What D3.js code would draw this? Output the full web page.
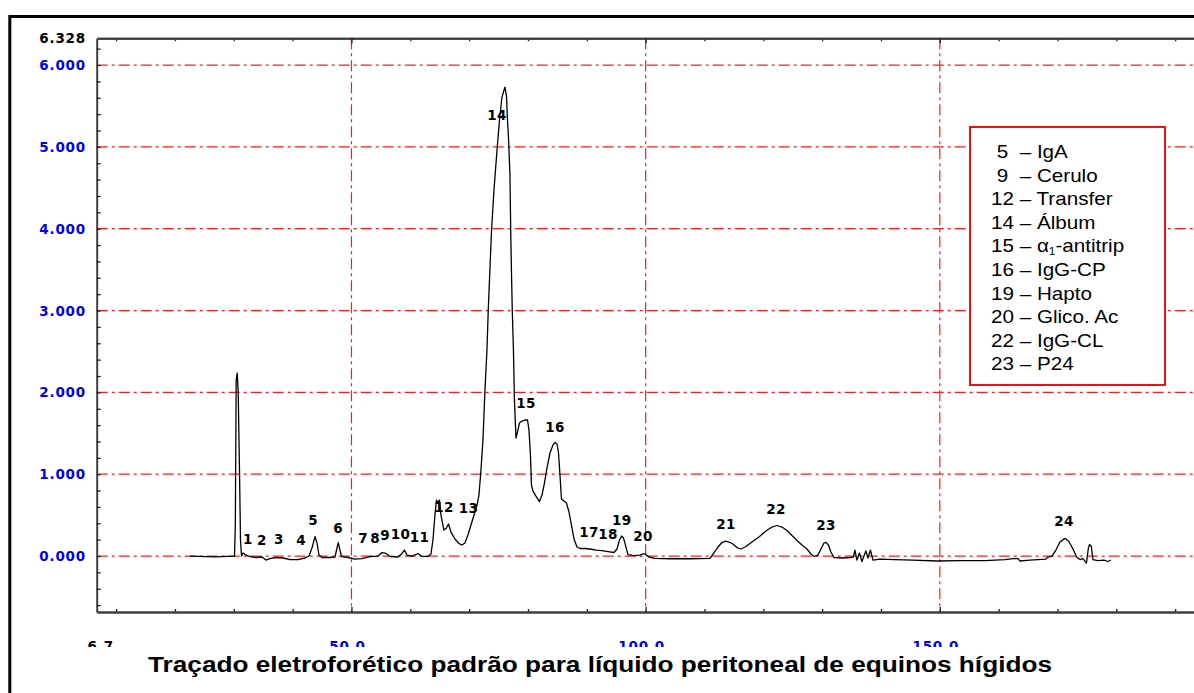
<!DOCTYPE html>
<html>
<head>
<meta charset="utf-8">
<script src="https://cdn.jsdelivr.net/npm/d3@7"></script>
<style>
  html, body { margin: 0; padding: 0; background: #fff; }
  svg { display: block; }
</style>
</head>
<body>
<svg id="chart" width="1194" height="693"></svg>
<script>
// Electrophoretic trace: relative mobility vs. absorbance
const mobility = [22.56,26.80,30.12,30.26,30.41,30.58,30.75,30.97,31.14,31.31,
  31.56,32.07,32.75,33.77,34.79,35.47,36.15,37.17,38.36,39.55,
  40.91,42.10,42.78,43.29,43.80,44.14,44.48,44.99,46.35,47.20,
  47.54,47.76,48.05,48.30,49.41,50.60,51.79,53.15,54.51,55.19,
  55.87,56.55,57.91,58.59,59.01,59.44,60.29,61.31,61.82,63.00,
  63.51,63.85,64.19,64.45,64.70,64.96,65.21,65.72,66.15,66.49,
  66.91,67.59,68.27,68.78,69.29,69.80,70.31,70.83,71.34,71.67,
  72.01,72.35,72.69,73.03,73.25,73.54,73.83,74.22,74.78,75.16,
  75.58,75.84,76.09,76.35,76.52,76.69,76.94,77.06,77.19,77.33,
  77.53,77.70,77.96,78.21,78.55,78.98,79.49,79.92,80.17,80.42,
  80.59,80.85,81.36,81.95,82.38,82.80,83.23,83.74,84.25,84.59,
  84.93,85.18,85.44,85.69,86.12,86.54,86.97,87.39,87.82,88.33,
  88.84,89.69,90.54,91.56,92.58,93.60,94.62,95.13,95.55,95.92,
  96.23,96.57,96.99,98.01,99.03,99.71,100.05,100.56,101.58,104.13,
  107.53,110.93,111.61,112.29,112.97,113.60,114.16,114.84,115.52,116.20,
  117.05,118.07,119.26,120.45,121.47,122.32,123.17,124.02,124.87,125.72,
  126.57,127.42,128.10,128.61,129.28,129.80,130.30,130.64,131.07,131.49,
  132.00,133.36,134.72,135.32,135.57,135.91,136.34,136.76,137.10,137.44,
  137.78,138.21,138.63,139.82,142.37,145.43,149.51,153.42,157.67,161.07,
  162.43,163.28,163.62,165.31,168.03,168.37,169.05,169.73,170.41,171.26,
  171.94,172.62,173.25,173.81,174.32,174.92,175.25,175.45,175.76,176.02,
  176.87,177.89,178.57,179.08];

const absorbance = [0,-0.01,0,0.38,2.151,2.236,2.004,1.051,0.196,0,
  0.037,0.012,-0.006,-0.018,-0.012,-0.049,-0.031,-0.018,-0.024,-0.043,
  -0.043,-0.024,0,0.098,0.238,0.159,0.012,-0.018,-0.018,-0.012,
  0.098,0.165,0.073,-0.006,-0.018,-0.037,-0.031,-0.006,0,0.043,
  0.031,-0.006,-0.012,0.031,0.073,0.012,0,0.031,0,-0.006,
  0.024,0.196,0.501,0.684,0.648,0.684,0.501,0.318,0.342,0.391,
  0.293,0.208,0.153,0.134,0.159,0.257,0.379,0.501,0.623,0.745,
  1.051,1.418,2.029,2.517,3.006,3.519,4.008,4.473,4.998,5.328,
  5.609,5.670,5.731,5.621,5.328,5.108,4.656,4.008,3.495,3.006,
  2.517,1.906,1.442,1.515,1.625,1.650,1.662,1.662,1.540,1.234,
  0.868,0.794,0.733,0.666,0.745,0.892,1.075,1.259,1.356,1.387,
  1.369,1.271,0.990,0.697,0.672,0.648,0.538,0.379,0.208,0.110,
  0.092,0.092,0.086,0.073,0.067,0.055,0.043,0.086,0.196,0.244,
  0.220,0.134,0.018,0.006,0.012,0.031,0.018,-0.012,-0.028,-0.033,
  -0.033,-0.028,0.037,0.110,0.165,0.183,0.171,0.147,0.104,0.086,
  0.116,0.171,0.232,0.306,0.354,0.373,0.354,0.312,0.251,0.189,
  0.134,0.086,0.024,-0.006,0.012,0.086,0.159,0.167,0.134,0.049,
  -0.018,-0.024,-0.018,-0.012,0.073,-0.049,0.037,-0.067,0,0.061,
  -0.024,0.073,-0.049,-0.037,-0.043,-0.049,-0.061,-0.055,-0.055,-0.043,
  -0.031,-0.031,-0.061,-0.049,-0.037,-0.012,0,0.073,0.171,0.216,
  0.177,0.086,-0.012,-0.043,-0.031,-0.086,0.098,0.141,0.116,-0.043,
  -0.055,-0.049,-0.067,-0.049];

// Fraction numbers printed above the trace (id, mobility, absorbance)
const peakIds = ["1","2","3","4","5","6","7","8","9","10","11","12","13","14","15","16","17","18","19","20","21","22","23","24"];
const peakX = [32.41,34.79,37.68,41.42,43.46,47.71,51.96,54.00,55.70,58.33,61.56,65.72,69.89,74.73,79.66,84.59,90.37,93.60,95.92,99.54,113.65,122.15,130.64,171.09];
const peakY = [0.208,0.196,0.208,0.196,0.440,0.342,0.220,0.220,0.257,0.269,0.232,0.599,0.587,5.389,1.869,1.576,0.293,0.269,0.440,0.248,0.391,0.574,0.378,0.428];

// Axis ranges and ticks
const xMin = 6.7, xMax = 193.2;
const yMin = -0.684, yMax = 6.328;
const yLabelTicks = [0, 1, 2, 3, 4, 5, 6];
const xLabelTicks = [50, 100, 150];

// Legend entries
const legendNums = [" 5", " 9", "12", "14", "15", "16", "19", "20", "22", "23"];
const legendNames = ["IgA", "Cerulo", "Transfer", "Álbum", "α1-antitrip", "IgG-CP", "Hapto", "Glico. Ac", "IgG-CL", "P24"];

const title = "Traçado eletroforético padrão para líquido peritoneal de equinos hígidos";

const W = 1194, H = 693;
const svg = d3.select("#chart");
const plot = { left: 96.7, right: 1194, top: 38.2, bottom: 612 };

const x = d3.scaleLinear().domain([xMin, xMax]).range([plot.left, plot.right]);
const y = d3.scaleLinear().domain([yMin, yMax]).range([plot.bottom, plot.top]);

// outer frame
svg.append("rect")
  .attr("x", 9.8).attr("y", 16.5)
  .attr("width", W + 20).attr("height", H + 20)
  .attr("fill", "none").attr("stroke", "#000").attr("stroke-width", 3);

// grid
const gridColor = "#ff1a1a";
const dash = "11,4,3,4";
svg.append("g").selectAll("line").data(yLabelTicks).join("line")
  .attr("x1", plot.left).attr("x2", W)
  .attr("y1", d => y(d)).attr("y2", d => y(d))
  .attr("stroke", gridColor).attr("stroke-width", 1.2)
  .attr("stroke-dasharray", dash);
svg.append("g").selectAll("line").data(xLabelTicks).join("line")
  .attr("x1", d => x(d)).attr("x2", d => x(d))
  .attr("y1", plot.top).attr("y2", plot.bottom)
  .attr("stroke", gridColor).attr("stroke-width", 1.2)
  .attr("stroke-dasharray", dash);

// axes
const axisColor = "#404040";
function styleAxis(g) {
  g.select(".domain").attr("stroke", axisColor).attr("stroke-width", 2);
  g.selectAll(".tick line").attr("stroke", "#202020").attr("stroke-width", 1.3);
  g.selectAll(".tick text").remove();
}
const xMinor = d3.range(10, 200, 10).filter(v => v % 50 !== 0);

svg.append("g").attr("transform", `translate(0,${plot.top})`)
  .call(d3.axisBottom(x).tickValues(xMinor).tickSizeInner(3).tickSizeOuter(0).tickFormat(""))
  .call(styleAxis);
svg.append("g").attr("transform", `translate(0,${plot.top})`)
  .call(d3.axisBottom(x).tickValues(xLabelTicks).tickSizeInner(5).tickSizeOuter(0).tickFormat(""))
  .call(styleAxis);
svg.append("g").attr("transform", `translate(0,${plot.bottom})`)
  .call(d3.axisTop(x).tickValues(xMinor).tickSizeInner(3).tickSizeOuter(0).tickFormat(""))
  .call(styleAxis);
svg.append("g").attr("transform", `translate(0,${plot.bottom})`)
  .call(d3.axisTop(x).tickValues(xLabelTicks).tickSizeInner(5).tickSizeOuter(0).tickFormat(""))
  .call(styleAxis);

const yMinor = d3.range(-6, 63, 2).map(v => v / 10);
svg.append("g").attr("transform", `translate(${plot.left},0)`)
  .call(d3.axisRight(y).tickValues(yMinor).tickSizeInner(4).tickSizeOuter(0).tickFormat(""))
  .call(styleAxis);

// y labels
const tickFont = "'DejaVu Sans', Verdana, sans-serif";
const fmtY = d3.format(".3f");
svg.append("g").selectAll("text").data(yLabelTicks).join("text")
  .attr("x", 86).attr("y", d => y(d))
  .attr("text-anchor", "end").attr("dominant-baseline", "central")
  .attr("font-family", tickFont).attr("font-weight", "bold")
  .attr("font-size", 13.5).attr("letter-spacing", "0.8px")
  .attr("fill", "#0000f0")
  .text(d => fmtY(d));
svg.append("text")
  .attr("x", 86).attr("y", y(yMax))
  .attr("text-anchor", "end").attr("dominant-baseline", "central")
  .attr("font-family", tickFont).attr("font-weight", "bold")
  .attr("font-size", 13.5).attr("letter-spacing", "0.8px")
  .attr("fill", "#000")
  .text(fmtY(yMax));

// x labels (partly hidden under the caption band)
const fmtX = d3.format(".1f");
svg.append("g").selectAll("text").data(xLabelTicks).join("text")
  .attr("x", d => x(d) - 4).attr("y", 651)
  .attr("text-anchor", "middle")
  .attr("font-family", tickFont).attr("font-weight", "bold")
  .attr("font-size", 13.5).attr("letter-spacing", "0.8px")
  .attr("fill", "#0000f0")
  .text(d => fmtX(d));
svg.append("text")
  .attr("x", x(xMin) + 4).attr("y", 651)
  .attr("text-anchor", "middle")
  .attr("font-family", tickFont).attr("font-weight", "bold")
  .attr("font-size", 13.5).attr("letter-spacing", "0.8px")
  .attr("fill", "#000")
  .text(fmtX(xMin));

// trace
const pts = d3.zip(mobility, absorbance);
svg.append("path")
  .datum(pts)
  .attr("fill", "none").attr("stroke", "#000").attr("stroke-width", 1.3)
  .attr("stroke-linejoin", "round")
  .attr("d", d3.line().x(d => x(d[0])).y(d => y(d[1])));

// fraction numbers
svg.append("g").selectAll("text").data(peakIds).join("text")
  .attr("x", (d, i) => x(peakX[i])).attr("y", (d, i) => y(peakY[i]))
  .attr("text-anchor", "middle").attr("dominant-baseline", "central")
  .attr("font-family", tickFont).attr("font-weight", "bold")
  .attr("font-size", 13.5).attr("letter-spacing", "0.3px")
  .attr("fill", "#000")
  .text(d => d);

// legend
svg.append("rect")
  .attr("x", 970).attr("y", 127).attr("width", 195).attr("height", 258)
  .attr("fill", "#fff").attr("stroke", "#ee1111").attr("stroke-width", 2);
const lg = svg.append("g").attr("transform", "translate(991,0) scale(1.18,1)");
legendNums.forEach((n, i) => {
  const t = lg.append("text")
    .attr("x", 0).attr("y", 158 + i * 23.6)
    .attr("font-family", "'Liberation Sans', Arial, sans-serif")
    .attr("font-size", 17.5).attr("fill", "#000")
    .style("white-space", "pre");
  const sep = n.startsWith(" ") ? "  – " : " – ";
  const name = legendNames[i];
  if (name.startsWith("α1")) {
    t.append("tspan").text(n + sep + "α");
    t.append("tspan").attr("font-size", 10).attr("dy", 3).text("1");
    t.append("tspan").attr("dy", -3).text(name.slice(2));
  } else {
    t.text(n + sep + name);
  }
});

// caption band
svg.append("rect")
  .attr("x", 12).attr("y", 647).attr("width", W).attr("height", H - 647)
  .attr("fill", "#fff");
svg.append("text")
  .attr("x", 600).attr("y", 672)
  .attr("text-anchor", "middle")
  .attr("font-family", "'Liberation Sans', Arial, sans-serif")
  .attr("font-weight", "bold").attr("font-size", 22)
  .attr("textLength", 904).attr("lengthAdjust", "spacingAndGlyphs")
  .attr("fill", "#000")
  .text(title);
</script>
</body>
</html>
